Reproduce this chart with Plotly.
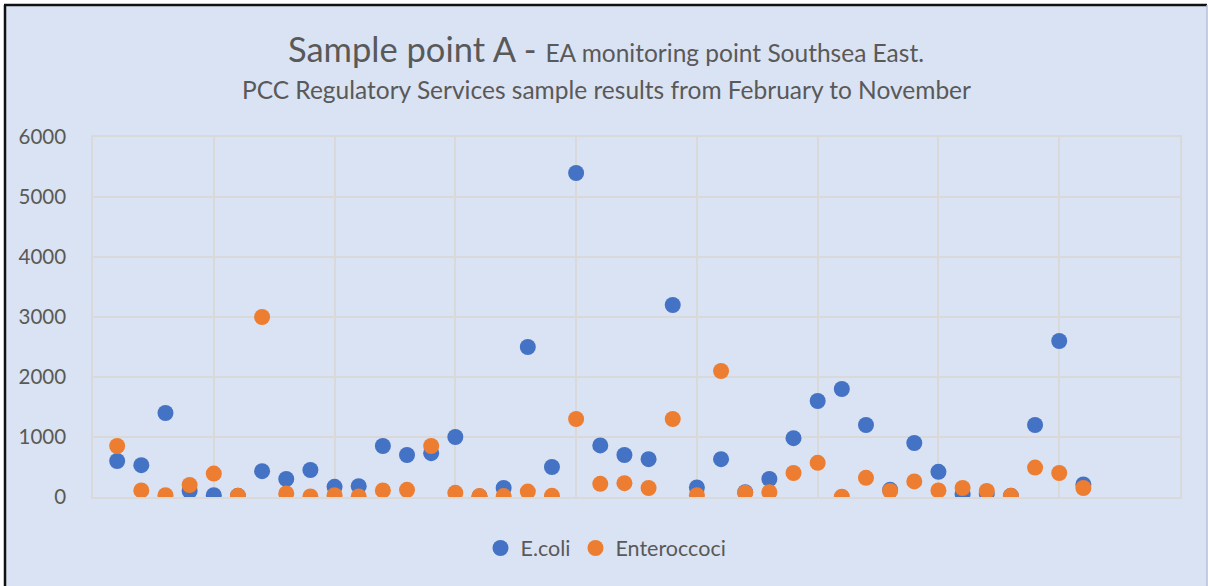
import plotly.graph_objects as go

sample_no = list(range(1, 42))
ecoli = [600, 530, 1400, 100, 30, 20, 430, 300, 450, 170, 180, 850, 700, 730, 1000,
         10, 150, 2500, 500, 5400, 860, 700, 630, 3200, 160, 630, 80, 300, 980, 1600,
         1800, 1200, 120, 900, 420, 50, 60, 20, 1200, 2600, 210]
entero = [850, 110, 30, 200, 390, 20, 3000, 60, 10, 30, 10, 110, 120, 850, 70,
          15, 15, 90, 20, 1300, 220, 230, 150, 1300, 30, 2100, 72, 80, 400, 570,
          5, 320, 100, 260, 110, 150, 100, 20, 490, 400, 150]

FONT = "Lato"
GREY = "#595959"
BG = "#DAE3F3"
GRID = "#D9D9D9"
L, R, T, B = 93, 28, 137, 89
W, H = 1208, 586
pw, ph = W - L - R, H - T - B

def px(x):
    return (x - L) / pw

def py(y):
    return (H - B - y) / ph

fig = go.Figure()
fig.add_trace(go.Scatter(x=sample_no, y=ecoli, mode="markers", name="E.coli",
                         marker=dict(color="#4472C4", size=16)))
fig.add_trace(go.Scatter(x=sample_no, y=entero, mode="markers", name="Enteroccoci",
                         marker=dict(color="#ED7D31", size=16)))

fig.update_layout(
    width=W, height=H,
    margin=dict(l=L, r=R, t=T, b=B),
    paper_bgcolor="white", plot_bgcolor=BG,
    font=dict(family=FONT, color=GREY, size=18),
    showlegend=True,
    legend=dict(orientation="h", x=px(606), xanchor="center", y=py(548), yanchor="middle",
                font=dict(size=21.5, color=GREY), bgcolor="rgba(0,0,0,0)",
                itemsizing="trace", itemwidth=30),
    xaxis=dict(range=[0, 45], dtick=5, tick0=0, showticklabels=False, showgrid=True,
               gridcolor=GRID, gridwidth=1.5, zeroline=False, showline=True,
               linecolor=GRID, linewidth=1.5, mirror=True, ticks=""),
    yaxis=dict(range=[0, 6000], dtick=1000, showgrid=True, gridcolor=GRID,
               gridwidth=1.5, zeroline=False, showline=True, linecolor=GRID,
               linewidth=1.5, mirror=True, ticks="",
               tickfont=dict(size=20.5, color=GREY), ticklabelstandoff=21),
    shapes=[
        dict(type="rect", xref="paper", yref="paper", x0=px(5), x1=px(1207), y0=py(586), y1=py(5),
             fillcolor=BG, line=dict(width=0), layer="below"),
        dict(type="line", xref="paper", yref="paper", x0=px(5), x1=px(5), y0=py(586), y1=py(5),
             line=dict(color="#111111", width=2.5)),
        dict(type="line", xref="paper", yref="paper", x0=px(4), x1=px(1207), y0=py(5), y1=py(5),
             line=dict(color="#111111", width=2.5)),
        dict(type="line", xref="paper", yref="paper", x0=px(1207), x1=px(1207), y0=py(586), y1=py(5),
             line=dict(color="#B4C0D8", width=1.5)),
    ],
    annotations=[
        dict(xref="paper", yref="paper", x=px(606), y=py(48), xanchor="center", yanchor="middle",
             showarrow=False,
             text="<span style='font-size:34.5px'>Sample point A - </span><span style='font-size:24.5px'>EA monitoring point Southsea East.</span>",
             font=dict(family=FONT, color=GREY)),
        dict(xref="paper", yref="paper", x=px(606), y=py(89), xanchor="center", yanchor="middle",
             showarrow=False,
             text="PCC Regulatory Services sample results from February to November",
             font=dict(family=FONT, color=GREY, size=24.5)),
    ],
)

fig.write_html("out.html", config={"displayModeBar": False},
               post_script="document.body.style.margin='0';document.body.style.padding='0';")
